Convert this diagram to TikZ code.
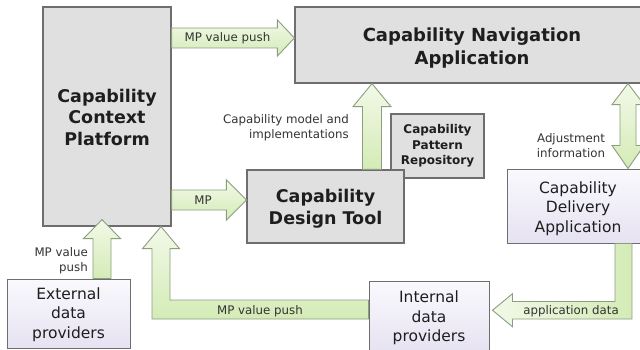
\documentclass[tikz,border=0pt]{standalone}
\usepackage{fontspec}
\setmainfont{DejaVu Sans}
\usetikzlibrary{calc}

\definecolor{boxgray}{HTML}{E0E0E0}
\definecolor{boxline}{HTML}{6E6E6E}
\definecolor{lavtop}{HTML}{FAF9FD}
\definecolor{lavbot}{HTML}{E6E2F2}
\definecolor{arrpale}{HTML}{F2F9E8}
\definecolor{arrgreen}{HTML}{D4EBB6}
\definecolor{arrline}{HTML}{8C9E80}
\definecolor{boxtext}{HTML}{1E1E1E}
\definecolor{lbltext}{HTML}{333333}

\tikzset{
  graybox/.style={draw=boxline, line width=1.2pt, fill=boxgray, inner sep=0pt,
    align=center, text=boxtext, font=\bfseries\fontsize{17.5}{21.5}\selectfont},
  lavbox/.style={draw=boxline, line width=1pt, top color=lavtop, bottom color=lavbot,
    inner sep=0pt, align=center, text=boxtext, font=\fontsize{15.5}{19.5}\selectfont},
  blockarrow/.style={draw=arrline, line width=0.9pt, line join=miter},
  vshade/.style={top color=arrpale, bottom color=arrgreen},
  lbl/.style={text=lbltext, font=\fontsize{11.8}{15}\selectfont, inner sep=0pt},
}

% centred lines of box text, set a little below the box centre
\newcommand\lowered[2]{%
  \raisebox{-#1}[\height][\depth]{\begin{tabular}{@{}c@{}}#2\end{tabular}}}

% block arrow pointing right: options, tail, tip, shaft half-width, head half-width, head length
\newcommand\rightblock[6]{%
  \path[blockarrow,#1] let \p1=(#2), \p2=(#3) in
    (\x1,\y1+#4) -- (\x2-#6,\y1+#4) -- (\x2-#6,\y1+#5) -- (\x2,\y1)
    -- (\x2-#6,\y1-#5) -- (\x2-#6,\y1-#4) -- (\x1,\y1-#4) -- cycle;}
% block arrow pointing up: options, tail, tip, shaft half-width, head half-width, head length
\newcommand\upblock[6]{%
  \path[blockarrow,#1] let \p1=(#2), \p2=(#3) in
    (\x1-#4,\y1) -- (\x1-#4,\y2-#6) -- (\x1-#5,\y2-#6) -- (\x1,\y2)
    -- (\x1+#5,\y2-#6) -- (\x1+#4,\y2-#6) -- (\x1+#4,\y1) -- cycle;}

\begin{document}
\begin{tikzpicture}[x=1pt,y=1pt]
\clip (0,0) rectangle (640,349);
\fill[white] (0,0) rectangle (640,349);

% boxes
\node[graybox, minimum width=128pt, minimum height=219pt] (ctx) at (107,232.5)
  {\lowered{3pt}{Capability\\Context\\Platform}};
\node[graybox, minimum width=354pt, minimum height=76pt, font=\bfseries\fontsize{18}{23}\selectfont]
  (nav) at (472,304) {\lowered{3.5pt}{Capability Navigation\\Application}};
\node[graybox, minimum width=93pt, minimum height=64pt, font=\bfseries\fontsize{12}{15.5}\selectfont]
  (repo) at (437.5,203) {Capability\\Pattern\\Repository};
\node[graybox, minimum width=157pt, minimum height=73pt] (design) at (325.5,142.5)
  {\lowered{2.5pt}{Capability\\Design Tool}};
\node[lavbox, minimum width=142pt, minimum height=74pt] (deliv) at (578,143)
  {\lowered{3pt}{Capability\\Delivery\\Application}};
\node[lavbox, minimum width=123pt, minimum height=69pt] (ext) at (68.5,35.5)
  {\lowered{1.5pt}{External\\data\\providers}};
\node[lavbox, minimum width=120pt, minimum height=72pt] (intp) at (429,32)
  {\lowered{1.5pt}{Internal\\data\\providers}};

% arrows
\rightblock{vshade}{ctx.east |- 0,311}{nav.west |- 0,311}{10pt}{18pt}{17pt}
\rightblock{vshade}{ctx.east |- 0,149}{design.west |- 0,149}{10pt}{20pt}{20pt}
\upblock{vshade}{design.north -| 372,0}{nav.south -| 372,0}{9.5pt}{19pt}{23pt}
\coordinate (ctxin) at ($(ctx.south)+(0,7)$);
\upblock{vshade}{ext.north -| 102,0}{ctxin -| 102,0}{9pt}{18.5pt}{19pt}

% L-shaped arrow from the internal providers up into the platform
\path[blockarrow, vshade]
  let \p1=(intp.west |- 0,39.5), \p2=(ctx.south -| 161,0) in
  (\x1,\y1+9.5pt) -- (\x2+9pt,\y1+9.5pt) -- (\x2+9pt,\y2-22pt) -- (\x2+18.5pt,\y2-22pt)
  -- (\x2,\y2) -- (\x2-18.5pt,\y2-22pt) -- (\x2-9pt,\y2-22pt) -- (\x2-9pt,\y1-9.5pt)
  -- (\x1,\y1-9.5pt) -- cycle;

% two-headed arrow between navigation and delivery
\path[blockarrow, vshade]
  let \p1=(deliv.north -| 628,0), \p2=(nav.south -| 628,0) in
  (\x1,\y1) -- (\x1+16pt,\y1+23pt) -- (\x1+8pt,\y1+23pt) -- (\x1+8pt,\y2-21pt)
  -- (\x1+16pt,\y2-21pt) -- (\x1,\y2) -- (\x1-16pt,\y2-21pt) -- (\x1-8pt,\y2-21pt)
  -- (\x1-8pt,\y1+23pt) -- (\x1-16pt,\y1+23pt) -- cycle;

% L-shaped arrow from delivery down and left to the internal providers
\path[blockarrow, left color=arrpale, right color=arrgreen]
  let \p1=(deliv.south -| 623.5,0), \p2=(intp.east |- 0,38.75) in
  (\x1+8.5pt,\y1) -- (\x1+8.5pt,\y2-8.75pt) -- (\x2+23pt,\y2-8.75pt) -- (\x2+23pt,\y2-16.5pt)
  -- (\x2+3pt,\y2) -- (\x2+23pt,\y2+16.5pt) -- (\x2+23pt,\y2+8.75pt) -- (\x1-8.5pt,\y2+8.75pt)
  -- (\x1-8.5pt,\y1) -- cycle;

% labels
\node[lbl] (l1) at (227.5,311) {MP value push};
\node[lbl] (l2) at (203,149) {MP};
\node[lbl, align=right, anchor=east] (l3) at (349,221) {Capability model and\\implementations};
\node[lbl, align=right, anchor=east] (l4) at (88,88.5) {MP value\\push};
\node[lbl] (l5) at (260,38) {MP value push};
\node[lbl] (l6) at (571,38) {application data};
\node[lbl, align=center] (l7) at (571,203.5) {Adjustment\\information};
\end{tikzpicture}
\end{document}
